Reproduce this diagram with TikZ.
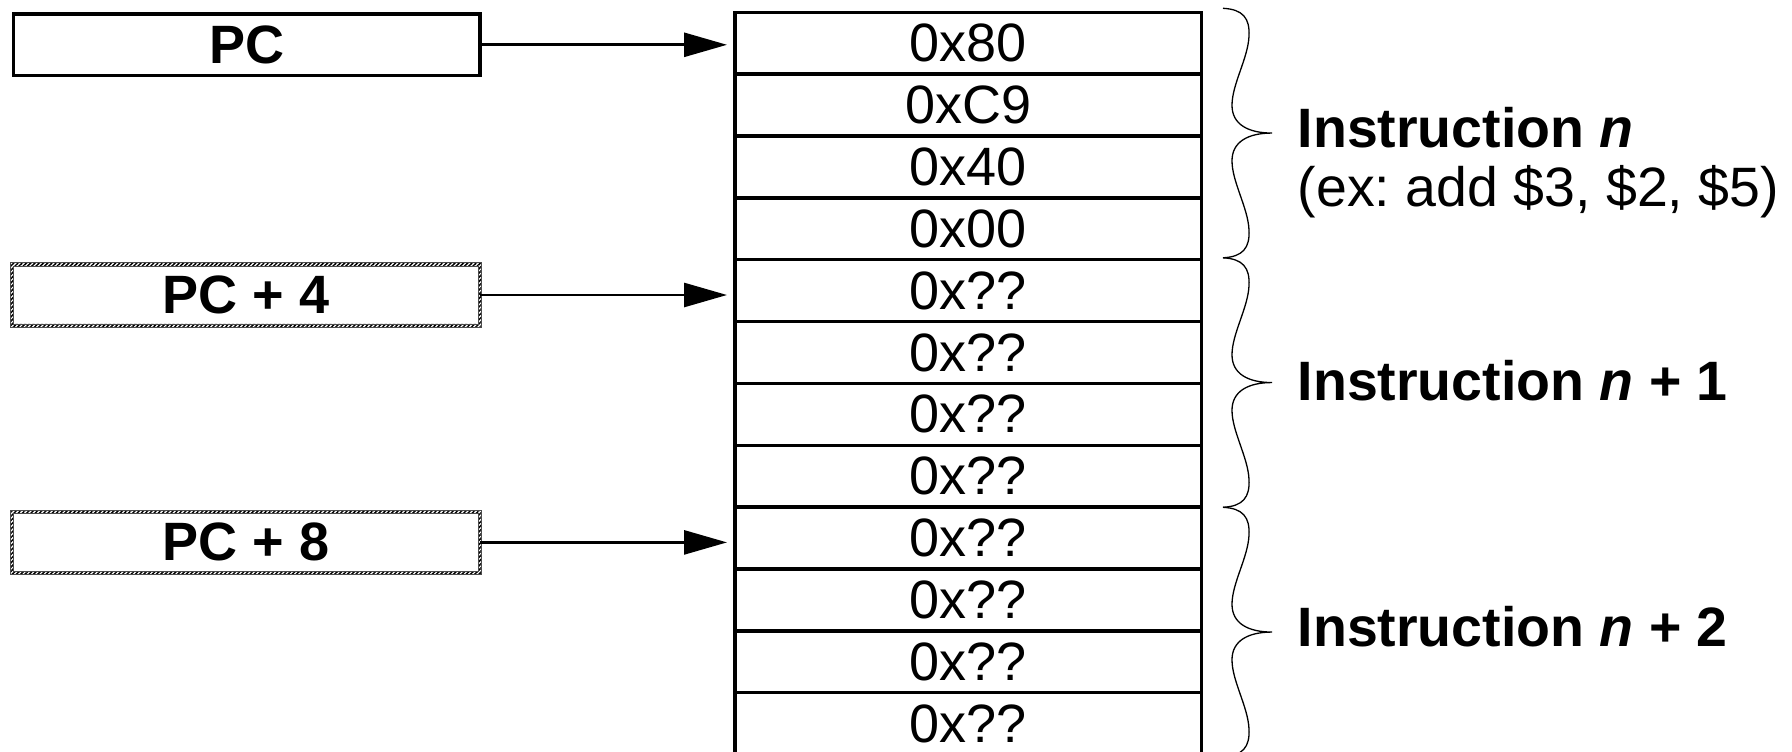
\documentclass[tikz,border=0pt]{standalone}
\usepackage{fontspec}
\setmainfont{Liberation Sans}
\usetikzlibrary{arrows.meta,patterns.meta}
\frenchspacing

\tikzset{
  x=1pt, y=-1pt,
  regbox/.style={draw, line width=3.6pt, minimum width=466.7pt, minimum height=61.4pt,
    inner sep=0pt, outer sep=0pt, font=\fontsize{54}{60}\selectfont\bfseries},
  hatchbox/.style={minimum width=468.2pt, minimum height=61.1pt,
    inner sep=0pt, outer sep=0pt, font=\fontsize{54}{60}\selectfont\bfseries},
  hatch/.style={pattern={Lines[angle=45,distance=3pt,line width=1.5pt]}, even odd rule},
  hatchedge/.style={draw=black!70, line width=0.6pt},
  cell/.style={draw, line width=3.4pt, minimum width=466.7pt, minimum height=61.85pt,
    inner sep=0pt, outer sep=0pt, font=\fontsize{54}{60}\selectfont},
  ptr/.style={line width=2.8pt, -{Triangle[length=43pt,width=24pt]}, shorten >=8pt},
  curl/.style={line width=1.3pt},
  sidetext/.style={anchor=base west, inner sep=0pt, font=\fontsize{55.5}{60}\selectfont}
}

% curly brace spanning one four-byte instruction, upper end at y = #1
\newcommand\instrbrace[1]{%
  \begin{scope}[shift={(1223,#1)}]
    \draw[curl] (0,0) .. controls (20,1) and (27,10) .. (26,28)
      .. controls (25,50) and (9,76) .. (9,97)
      .. controls (9,116) and (25,124.75) .. (49,124.75)
      .. controls (25,124.75) and (9,133.5) .. (9,152.5)
      .. controls (9,173.5) and (25,199.5) .. (26,221.5)
      .. controls (27,239.5) and (20,248.5) .. (0,249.5);
  \end{scope}}

% hatched outline of width 3.5 around a node
\newcommand\hatchframe[1]{%
  \fill[hatch]
    ([shift={(-1.75,-1.75)}]#1.north west) rectangle ([shift={(1.75,1.75)}]#1.south east)
    ([shift={(1.75,1.75)}]#1.north west) rectangle ([shift={(-1.75,-1.75)}]#1.south east);
  \draw[hatchedge]
    ([shift={(-1.75,-1.75)}]#1.north west) rectangle ([shift={(1.75,1.75)}]#1.south east)
    ([shift={(1.75,1.75)}]#1.north west) rectangle ([shift={(-1.75,-1.75)}]#1.south east);}

\begin{document}
\begin{tikzpicture}
  \fill[white] (0,0) rectangle (1792,752);
  \useasboundingbox (0,0) rectangle (1792,752);

  % memory bytes
  \foreach \v [count=\k] in {0x80,0xC9,0x40,0x00,0x??,0x??,0x??,0x??,0x??,0x??,0x??,0x??}
    \node[cell] (c\k) at (968.35, {12.3+61.85*(\k-0.5)}) {\v};

  % program counter values
  \node[regbox] (pc) at (246.85,44.8) {PC};
  \node[hatchbox] (pcfour) at (245.85,295) {PC + 4};
  \node[hatchbox] (pceight) at (245.85,542.4) {PC + 8};
  \hatchframe{pcfour}
  \hatchframe{pceight}

  % pointers into memory
  \draw[ptr] (pc.east) -- (pc.east -| c1.west);
  \draw[ptr] (pcfour.east) -- (pcfour.east -| c5.west);
  \draw[ptr] (pceight.east) -- (pceight.east -| c9.west);

  % instruction grouping
  \instrbrace{8.3}
  \instrbrace{257.8}
  \instrbrace{507.3}

  \node[sidetext] (in0) at (1297.5,147.3) {\bfseries Instruction \textit{n}};
  \node[sidetext] (ex0) at (1297.5,206.7) {(ex: add \$3, \$2, \$5)};
  \node[sidetext] (in1) at (1297.5,400) {\bfseries Instruction \textit{n} + 1};
  \node[sidetext] (in2) at (1297.5,646) {\bfseries Instruction \textit{n} + 2};
\end{tikzpicture}
\end{document}
